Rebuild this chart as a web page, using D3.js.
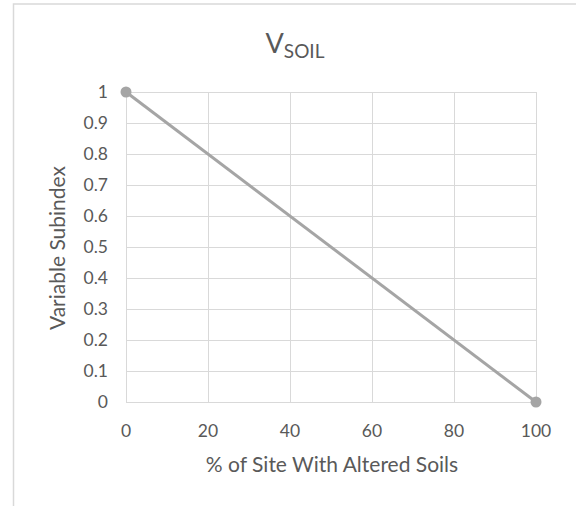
<!DOCTYPE html>
<html><head><meta charset="utf-8">
<script src="https://cdn.jsdelivr.net/npm/d3@7"></script>
<style>
html,body{margin:0;padding:0;background:#fff;}
svg{display:block;font-family:Lato,"Open Sans",sans-serif;}
</style></head>
<body><svg id="c" width="576" height="506"></svg>
<script>
const xValues = [0, 100];
const yValues = [1, 0];
const xTicks = [0, 20, 40, 60, 80, 100];
const yTicks = [0, 0.1, 0.2, 0.3, 0.4, 0.5, 0.6, 0.7, 0.8, 0.9, 1];
const titleMain = "V";
const titleSub = "SOIL";
const xTitle = "% of Site With Altered Soils";
const yTitle = "Variable Subindex";

const svg = d3.select("#c");
const L = 126, R = 536, T = 92, B = 402;
const x = d3.scaleLinear().domain([0, 100]).range([L, R]);
const y = d3.scaleLinear().domain([0, 1]).range([B, T]);

// chart border
svg.append("rect").attr("x", 13.5).attr("y", 4).attr("width", 580).attr("height", 520)
  .attr("fill", "none").attr("stroke", "#d9d9d9").attr("stroke-width", 1.5);

// gridlines
svg.append("g").selectAll("line").data(yTicks).join("line")
  .attr("x1", L).attr("x2", R).attr("y1", d => Math.round(y(d)) + 0.5).attr("y2", d => Math.round(y(d)) + 0.5)
  .attr("stroke", "#d9d9d9").attr("stroke-width", 1);
svg.append("g").selectAll("line").data(xTicks).join("line")
  .attr("y1", T).attr("y2", B).attr("x1", d => Math.round(x(d)) + 0.5).attr("x2", d => Math.round(x(d)) + 0.5)
  .attr("stroke", "#d9d9d9").attr("stroke-width", 1);

// tick labels
svg.append("g").selectAll("text").data(yTicks).join("text")
  .attr("x", 108).attr("y", d => y(d)).attr("dy", "0.35em").attr("text-anchor", "end")
  .attr("fill", "#595959").attr("font-size", 17.5).text(d => d3.format("")(Math.round(d * 10) / 10));
svg.append("g").selectAll("text").data(xTicks).join("text")
  .attr("x", d => x(d)).attr("y", 431).attr("dy", "0.35em").attr("text-anchor", "middle")
  .attr("fill", "#595959").attr("font-size", 17.5).text(d => d);

// line and markers
const pts = xValues.map((v, i) => [v, yValues[i]]);
svg.append("path").datum(pts)
  .attr("d", d3.line().x(d => x(d[0])).y(d => y(d[1])))
  .attr("fill", "none").attr("stroke", "#a5a5a5").attr("stroke-width", 3);
svg.append("g").selectAll("circle").data(pts).join("circle")
  .attr("cx", d => x(d[0])).attr("cy", d => y(d[1])).attr("r", 5.5).attr("fill", "#a5a5a5");

// title
const t = svg.append("text").attr("x", 295).attr("y", 53).attr("text-anchor", "middle")
  .attr("fill", "#595959").attr("font-size", 27);
t.append("tspan").text(titleMain);
t.append("tspan").attr("font-size", 19).attr("dy", 5).text(titleSub);

// axis titles
svg.append("text").attr("x", 332).attr("y", 472).attr("text-anchor", "middle")
  .attr("fill", "#595959").attr("font-size", 21).text(xTitle);
svg.append("text").attr("transform", "translate(65,248) rotate(-90)").attr("text-anchor", "middle")
  .attr("fill", "#595959").attr("font-size", 21).text(yTitle);
</script></body></html>
